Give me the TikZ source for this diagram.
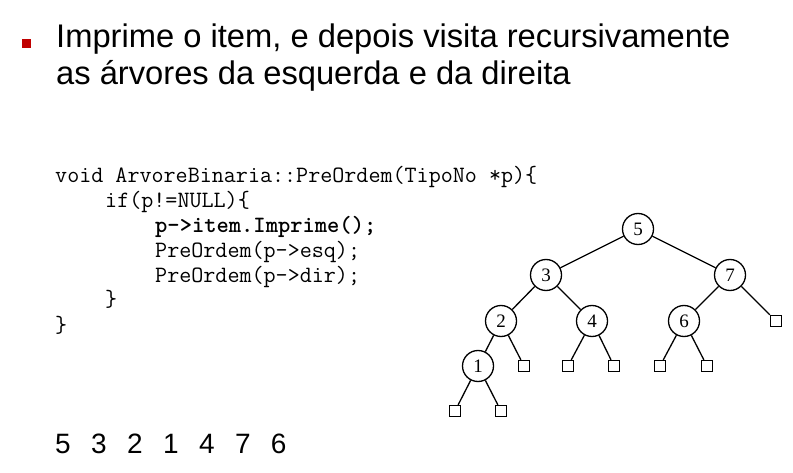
\documentclass[tikz,border=0pt]{standalone}
\usepackage{fontspec}
\setmainfont{Liberation Serif}
\setsansfont{Liberation Sans}
\definecolor{bulletred}{HTML}{C00000}
\begin{document}
\begin{tikzpicture}[x=1pt,y=-1pt,
  titleline/.style={anchor=base west,inner sep=0pt,font=\sffamily\fontsize{32.7}{37}\selectfont},
  codeline/.style={anchor=base west,inner sep=0pt,font=\ttfamily\fontsize{23.4}{25}\selectfont},
  key/.style={circle,draw,line width=1.3pt,minimum size=31pt,inner sep=0pt,
    font=\rmfamily\fontsize{19}{19}\selectfont},
  leaf/.style={rectangle,draw,line width=1.3pt,minimum size=11pt,inner sep=0pt},
  edge/.style={line width=1.3pt}]
\useasboundingbox (0,0) rectangle (793,473);

% heading with its bullet
\fill[bulletred] (22,39) rectangle (31,48);
\node[titleline] (t1) at (56,48) {Imprime o item, e depois visita recursivamente};
\node[titleline] (t2) at (56,85) {as árvores da esquerda e da direita};

% pre-order traversal code
\node[codeline] (c1) at (55,183) {void ArvoreBinaria::PreOrdem(TipoNo *p)\{};
\node[codeline] (c2) at (105,208) {if(p!=NULL)\{};
\node[codeline,font=\ttfamily\bfseries\fontsize{23.4}{25}\selectfont] (c3) at (155,233) {p->item.Imprime();};
\node[codeline] (c4) at (155,258) {PreOrdem(p->esq);};
\node[codeline] (c5) at (155,283) {PreOrdem(p->dir);};
\node[codeline] (c6) at (105,307) {\}};
\node[codeline] (c7) at (55,332) {\}};

% binary search tree
\node[key] (n5) at (638,229) {5};
\node[key] (n3) at (546,275) {3};
\node[key] (n7) at (730,275) {7};
\node[key] (n2) at (501,321) {2};
\node[key] (n4) at (592,321) {4};
\node[key] (n6) at (684,321) {6};
\node[key] (n1) at (478,366) {1};
\node[leaf] (l7r) at (776,321) {};
\node[leaf] (l2r) at (524,366) {};
\node[leaf] (l4l) at (568,366) {};
\node[leaf] (l4r) at (614,366) {};
\node[leaf] (l6l) at (660,366) {};
\node[leaf] (l6r) at (707,366) {};
\node[leaf] (l1l) at (455,411) {};
\node[leaf] (l1r) at (501,411) {};

\draw[edge] (n5) -- (n3);
\draw[edge] (n5) -- (n7);
\draw[edge] (n3) -- (n2);
\draw[edge] (n3) -- (n4);
\draw[edge] (n7) -- (n6);
\draw[edge] (n7) -- (l7r);
\draw[edge] (n2) -- (n1);
\draw[edge] (n2) -- (l2r);
\draw[edge] (n4) -- (l4l);
\draw[edge] (n4) -- (l4r);
\draw[edge] (n6) -- (l6l);
\draw[edge] (n6) -- (l6r);
\draw[edge] (n1) -- (l1l);
\draw[edge] (n1) -- (l1r);

% visiting order
\node[anchor=base west,inner sep=0pt,font=\sffamily\fontsize{28}{30}\selectfont] (seq) at (55,453)
  {\spaceskip=20.4pt 5 3 2 1 4 7 6};
\end{tikzpicture}
\end{document}
